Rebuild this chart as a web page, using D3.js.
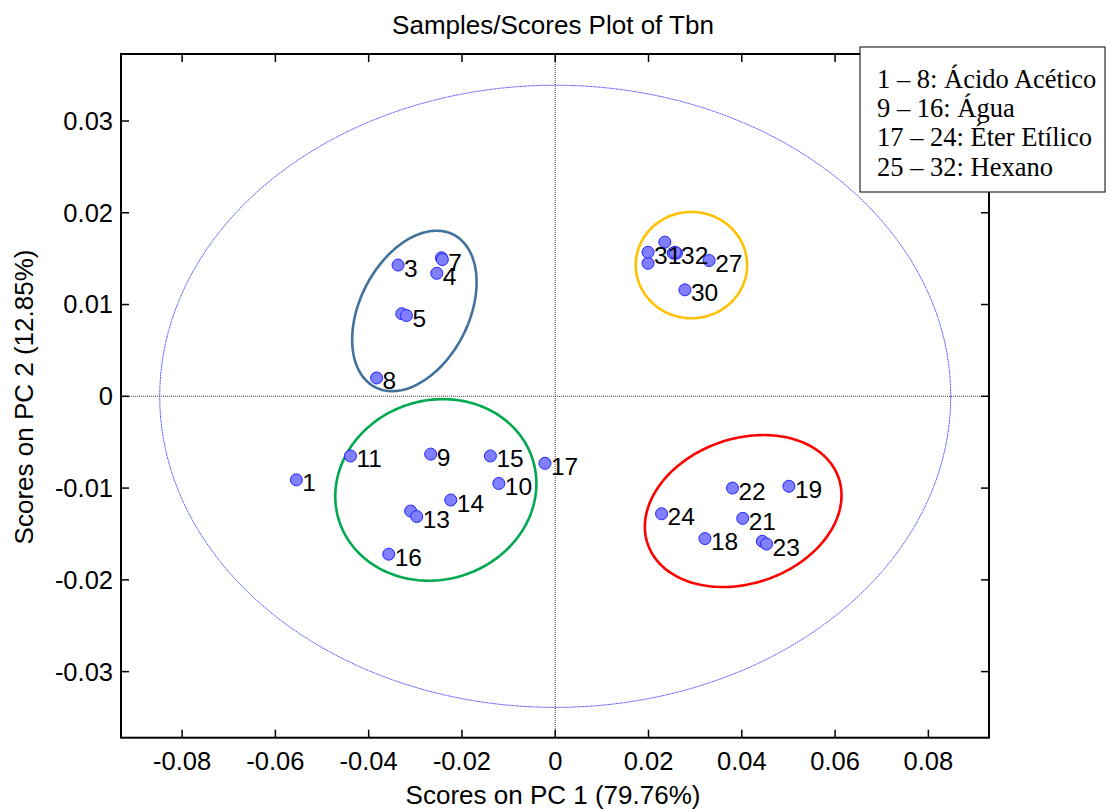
<!DOCTYPE html>
<html>
<head>
<meta charset="utf-8">
<script src="https://cdn.jsdelivr.net/npm/d3@7"></script>
<style>
  html, body { margin: 0; padding: 0; background: #fff; }
  svg { display: block; font-family: Arial, "Liberation Sans", sans-serif; }
</style>
</head>
<body>
<svg id="chart" width="1111" height="809"></svg>
<script>
// scores on PC1 / PC2 for the 32 samples
const sampleIds = d3.range(1, 33).map(String);
const pc1 = [
  -0.0555, -0.0329, -0.0337, -0.0254, -0.0319, -0.0244, -0.0242, -0.0383,
  -0.0267, -0.0121, -0.0439, -0.0310, -0.0297, -0.0224, -0.0139, -0.0357,
  -0.0022, 0.0321, 0.0501, 0.0444, 0.0402, 0.0380, 0.0453, 0.0228,
  0.0235, 0.0253, 0.0330, 0.0199, 0.0260, 0.0278, 0.0199, 0.0257
];
const pc2 = [
  -0.0091, 0.0090, 0.0143, 0.0134, 0.0088, 0.0151, 0.0149, 0.0020,
  -0.0063, -0.0095, -0.0065, -0.0125, -0.0131, -0.0113, -0.0065, -0.0172,
  -0.0073, -0.0155, -0.0098, -0.0158, -0.0133, -0.0100, -0.0161, -0.0128,
  0.0168, 0.0156, 0.0148, 0.0145, 0.0156, 0.0116, 0.0157, 0.0157
];
// labels hidden where they collide with a neighbour
const hiddenLabels = ["2", "6", "12", "20", "25", "26", "28", "29"];

const xTicks = [-0.08, -0.06, -0.04, -0.02, 0, 0.02, 0.04, 0.06, 0.08];
const yTicks = [-0.03, -0.02, -0.01, 0, 0.01, 0.02, 0.03];

// 95% confidence limit ellipse
const limitEllipse = { rx: 0.0848, ry: 0.0339 };

// hand-drawn group ellipses: centre, half-width, half-height, tilt correlation
const groupNames = ["Ácido Acético", "Água", "Éter Etílico", "Hexano"];
const groupCx = [-0.0302, -0.0256, 0.0403, 0.0292];
const groupCy = [0.0093, -0.0102, -0.0125, 0.0143];
const groupRx = [0.01334, 0.02156, 0.02108, 0.01194];
const groupRy = [0.00874, 0.00989, 0.00828, 0.00579];
const groupRho = [0.357, 0.07, 0.2065, 0];
const groupColors = ["#41719c", "#00a850", "#ff0000", "#ffc000"];

const legendLines = [
  "1 – 8: Ácido Acético",
  "9 – 16: Água",
  "17 – 24: Éter Etílico",
  "25 – 32: Hexano"
];

const svg = d3.select("#chart");
const plot = { left: 121, right: 989, top: 54, bottom: 737.7 };

const x = d3.scaleLinear().domain([-0.0931, 0.0930]).range([plot.left, plot.right]);
const y = d3.scaleLinear().domain([-0.0372, 0.0373]).range([plot.bottom, plot.top]);

svg.append("rect").attr("width", 1111).attr("height", 809).attr("fill", "#fff");

// ellipse path in data space: x = cx + rx cos t, y = cy + ry cos(t - phi)
function ellipsePath(cx, cy, rx, ry, rho) {
  const phi = Math.acos(rho);
  const pts = d3.range(0, 361, 2).map(d => {
    const t = d * Math.PI / 180;
    return [x(cx + rx * Math.cos(t)), y(cy + ry * Math.cos(t - phi))];
  });
  return d3.line()(pts) + "Z";
}

svg.append("path")
  .attr("d", ellipsePath(0, 0, limitEllipse.rx, limitEllipse.ry, 0))
  .attr("fill", "none")
  .attr("stroke", "#4848ff")
  .attr("stroke-width", 0.9)
  .attr("stroke-dasharray", "2 0.6");

// zero lines
svg.append("line")
  .attr("x1", plot.left).attr("x2", plot.right)
  .attr("y1", y(0)).attr("y2", y(0))
  .attr("stroke", "#444").attr("stroke-width", 1).attr("stroke-dasharray", "1 1");
svg.append("line")
  .attr("x1", x(0)).attr("x2", x(0))
  .attr("y1", plot.top).attr("y2", plot.bottom)
  .attr("stroke", "#444").attr("stroke-width", 1).attr("stroke-dasharray", "1 1");

svg.selectAll("path.group")
  .data(groupNames)
  .join("path")
  .attr("class", "group")
  .attr("d", (d, i) => ellipsePath(groupCx[i], groupCy[i], groupRx[i], groupRy[i], groupRho[i]))
  .attr("fill", "none")
  .attr("stroke", (d, i) => groupColors[i])
  .attr("stroke-width", 2.6);

svg.selectAll("circle.sample")
  .data(sampleIds)
  .join("circle")
  .attr("class", "sample")
  .attr("cx", (d, i) => x(pc1[i]))
  .attr("cy", (d, i) => y(pc2[i]))
  .attr("r", 6)
  .attr("fill", "#7f7fff")
  .attr("stroke", "#2424ff")
  .attr("stroke-width", 1);

svg.selectAll("text.sample-label")
  .data(sampleIds)
  .join("text")
  .attr("class", "sample-label")
  .attr("x", (d, i) => x(pc1[i]) + 6)
  .attr("y", (d, i) => y(pc2[i]) + 11.5)
  .attr("font-size", 24.5)
  .attr("fill", "#000")
  .text(d => hiddenLabels.includes(d) ? "" : d);

// axes frame and inward ticks
const frame = svg.append("g").attr("stroke", "#000").attr("fill", "none");
frame.append("rect")
  .attr("x", plot.left).attr("y", plot.top)
  .attr("width", plot.right - plot.left).attr("height", plot.bottom - plot.top)
  .attr("stroke-width", 2);
xTicks.forEach(t => {
  frame.append("line").attr("x1", x(t)).attr("x2", x(t))
    .attr("y1", plot.bottom).attr("y2", plot.bottom - 8).attr("stroke-width", 1.5);
  frame.append("line").attr("x1", x(t)).attr("x2", x(t))
    .attr("y1", plot.top).attr("y2", plot.top + 8).attr("stroke-width", 1.5);
});
yTicks.forEach(t => {
  frame.append("line").attr("x1", plot.left).attr("x2", plot.left + 8)
    .attr("y1", y(t)).attr("y2", y(t)).attr("stroke-width", 1.5);
  frame.append("line").attr("x1", plot.right).attr("x2", plot.right - 8)
    .attr("y1", y(t)).attr("y2", y(t)).attr("stroke-width", 1.5);
});

svg.selectAll("text.xtick")
  .data(xTicks)
  .join("text")
  .attr("class", "xtick")
  .attr("x", d => x(d))
  .attr("y", 770)
  .attr("text-anchor", "middle")
  .attr("font-size", 25.5)
  .text(d => String(d));

svg.selectAll("text.ytick")
  .data(yTicks)
  .join("text")
  .attr("class", "ytick")
  .attr("x", 113)
  .attr("y", d => y(d))
  .attr("dy", "0.35em")
  .attr("text-anchor", "end")
  .attr("font-size", 25.5)
  .text(d => String(d));

svg.append("text")
  .attr("x", 553).attr("y", 34)
  .attr("text-anchor", "middle")
  .attr("font-size", 26)
  .text("Samples/Scores Plot of Tbn");

svg.append("text")
  .attr("x", 553).attr("y", 804)
  .attr("text-anchor", "middle")
  .attr("font-size", 26)
  .text("Scores on PC 1 (79.76%)");

svg.append("text")
  .attr("transform", "translate(33,397) rotate(-90)")
  .attr("text-anchor", "middle")
  .attr("font-size", 26)
  .text("Scores on PC 2 (12.85%)");

// legend box
const legend = svg.append("g");
legend.append("rect")
  .attr("x", 860).attr("y", 47)
  .attr("width", 245).attr("height", 145)
  .attr("fill", "#fff").attr("stroke", "#000").attr("stroke-width", 1);
legend.selectAll("text")
  .data(legendLines)
  .join("text")
  .attr("x", 877)
  .attr("y", (d, i) => 87.7 + i * 29.3)
  .attr("font-family", "'Liberation Serif', 'Times New Roman', serif")
  .attr("font-size", 26.5)
  .text(d => d);
</script>
</body>
</html>
